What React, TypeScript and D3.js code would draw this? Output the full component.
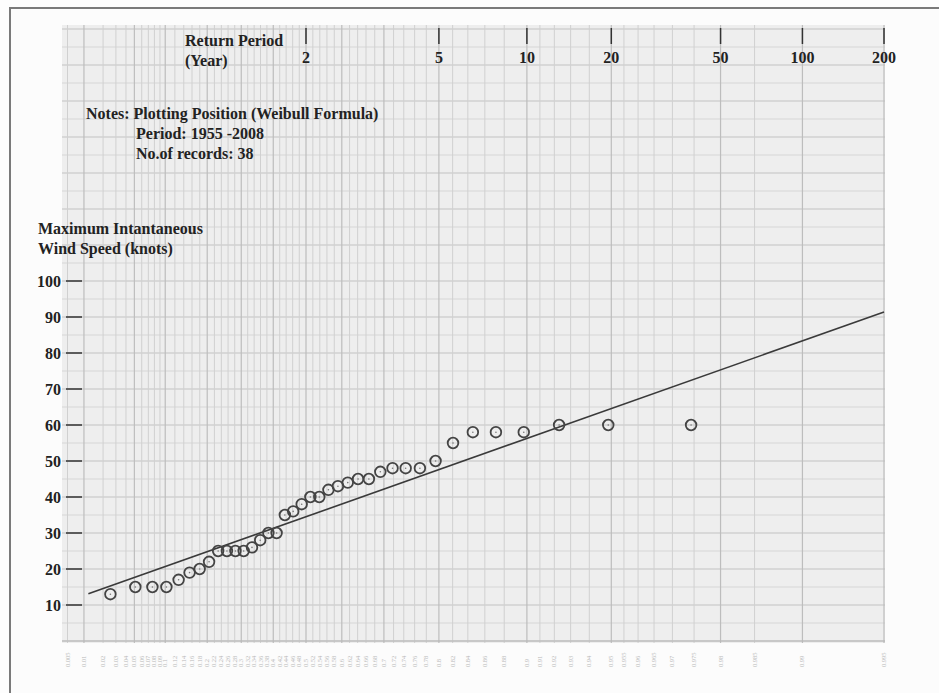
import React from 'react';
import * as d3 from 'd3';

// Top axis: return period (years)
const returnPeriodTicks = [2, 5, 10, 20, 50, 100, 200];
// Left axis: wind speed (knots)
const speedTicks = [10, 20, 30, 40, 50, 60, 70, 80, 90, 100];

// Plotting positions (Weibull, n = 38) as return periods, largest event first
const returnPeriods = [
  39, 19.5, 13, 9.75, 7.8, 6.5, 5.571, 4.875, 4.333, 3.9,
  3.545, 3.25, 3.0, 2.786, 2.6, 2.438, 2.294, 2.167, 2.053, 1.95,
  1.857, 1.773, 1.696, 1.625, 1.56, 1.5, 1.444, 1.393, 1.345, 1.3,
  1.258, 1.219, 1.182, 1.147, 1.114, 1.083, 1.054, 1.026,
];
// Annual maximum instantaneous wind speed (knots), ranked
const windSpeeds = [
  60, 60, 60, 58, 58, 58, 55, 50, 48, 48,
  48, 47, 45, 45, 44, 43, 42, 40, 40, 38,
  36, 35, 30, 30, 28, 26, 25, 25, 25, 25,
  22, 20, 19, 17, 15, 15, 15, 13,
];
// Fitted Gumbel line end points
const fitReturnPeriods = [1.012, 200];
const fitSpeeds = [13.1, 91.4];

// Probability-paper grid (non-exceedance probability)
const gridProbs = [
  0.005, 0.01, 0.02, 0.03, 0.04, 0.05, 0.06, 0.07, 0.08, 0.09, 0.1,
  0.12, 0.14, 0.16, 0.18, 0.2, 0.22, 0.24, 0.26, 0.28, 0.3, 0.32, 0.34,
  0.36, 0.38, 0.4, 0.42, 0.44, 0.46, 0.48, 0.5, 0.52, 0.54, 0.56, 0.58,
  0.6, 0.62, 0.64, 0.66, 0.68, 0.7, 0.72, 0.74, 0.76, 0.78, 0.8, 0.82,
  0.84, 0.86, 0.88, 0.9, 0.91, 0.92, 0.93, 0.94, 0.95, 0.955, 0.96,
  0.965, 0.97, 0.975, 0.98, 0.985, 0.99, 0.995,
];
const majorProbs = [0.01, 0.05, 0.1, 0.2, 0.3, 0.4, 0.5, 0.6, 0.7, 0.8, 0.9, 0.95, 0.98, 0.99, 0.995];
const gridSpeeds = d3.range(0, 171, 5);

const noteLines = [
  'Notes: Plotting Position (Weibull Formula)',
  'Period: 1955 -2008',
  'No.of records: 38',
];
const axisTitleX = ['Return Period', '(Year)'];
const axisTitleY = ['Maximum Intantaneous', 'Wind Speed (knots)'];

const W = 939;
const H = 693;
const reducedFromP = (p: number) => -Math.log(-Math.log(p));
const reducedFromT = (T: number) => reducedFromP(1 - 1 / T);

const x = d3.scaleLinear().domain([reducedFromT(2), reducedFromT(200)]).range([306, 884]);
const y = d3.scaleLinear().domain([0, 100]).range([641, 281]);

const paper = { x0: 62, x1: 885, y0: 25, y1: 643 };
const FONT = "'Liberation Serif', 'DejaVu Serif', Times, serif";
const FS = 16;

export default function App() {
  const line = d3
    .line<number>()
    .x((_, i) => x(reducedFromT(fitReturnPeriods[i])))
    .y((_, i) => y(fitSpeeds[i]));

  return (
    <svg
      width={W}
      height={H}
      viewBox={`0 0 ${W} ${H}`}
      style={{ position: 'absolute', left: 0, top: 0, display: 'block', background: '#fdfdfd' }}
    >
      {/* page frame */}
      <rect x={10} y={8} width={W + 20} height={H + 20} fill="#fcfcfc" stroke="#7a7a7a" strokeWidth={2} />

      {/* probability paper */}
      <rect x={paper.x0} y={paper.y0} width={paper.x1 - paper.x0} height={paper.y1 - paper.y0} fill="#eeeeee" />
      {gridSpeeds.map((v) => (
        <line
          key={'h' + v}
          x1={paper.x0}
          x2={paper.x1}
          y1={y(v)}
          y2={y(v)}
          stroke={v % 10 === 0 ? '#c2c2c2' : '#d6d6d6'}
          strokeWidth={1}
        />
      ))}
      {gridProbs.map((p) => {
        const major = majorProbs.includes(p);
        return (
          <line
            key={'v' + p}
            x1={x(reducedFromP(p))}
            x2={x(reducedFromP(p))}
            y1={paper.y0}
            y2={paper.y1}
            stroke={major ? '#bdbdbd' : '#d0d0d0'}
            strokeWidth={major ? 1.2 : 1}
          />
        );
      })}
      <line x1={paper.x0} x2={paper.x1} y1={y(0)} y2={y(0)} stroke="#b8b8b8" strokeWidth={1.2} />

      {/* faint probability labels under the paper */}
      {gridProbs.map((p) => (
        <text
          key={'pl' + p}
          transform={`translate(${x(reducedFromP(p)) + 2},${paper.y1 + 24}) rotate(-90)`}
          fontSize={6.5}
          fill="#b8b8b8"
          fontFamily={FONT}
        >
          {p}
        </text>
      ))}

      {/* top return-period axis */}
      {returnPeriodTicks.map((t) => (
        <g key={'t' + t} transform={`translate(${x(reducedFromT(t))},0)`}>
          <line y1={28} y2={44} stroke="#333" strokeWidth={1.5} />
          <text y={63} textAnchor="middle" fontSize={FS} fontWeight="bold" fontFamily={FONT} fill="#222">
            {t}
          </text>
        </g>
      ))}
      {axisTitleX.map((s, i) => (
        <text key={s} x={185} y={46 + i * 20} fontSize={FS} fontWeight="bold" fontFamily={FONT} fill="#222">
          {s}
        </text>
      ))}

      {/* notes */}
      {noteLines.map((s, i) => (
        <text
          key={s}
          x={i === 0 ? 86 : 136}
          y={119 + i * 20}
          fontSize={FS}
          fontWeight="bold"
          fontFamily={FONT}
          fill="#222"
        >
          {s}
        </text>
      ))}

      {/* left wind speed axis */}
      {axisTitleY.map((s, i) => (
        <text key={s} x={38} y={234 + i * 20} fontSize={FS} fontWeight="bold" fontFamily={FONT} fill="#222">
          {s}
        </text>
      ))}
      {speedTicks.map((v) => (
        <g key={'s' + v} transform={`translate(0,${y(v)})`}>
          <line x1={66} x2={82} stroke="#333" strokeWidth={1.5} />
          <text x={61} dy="0.35em" textAnchor="end" fontSize={FS} fontWeight="bold" fontFamily={FONT} fill="#222">
            {v}
          </text>
        </g>
      ))}

      {/* fitted line */}
      <path d={line(fitSpeeds) || ''} fill="none" stroke="#3a3a3a" strokeWidth={1.6} />

      {/* observations */}
      {windSpeeds.map((v, i) => {
        const cx = x(reducedFromT(returnPeriods[i]));
        const cy = y(v);
        return (
          <g key={'o' + i}>
            <circle cx={cx} cy={cy} r={5.3} fill="none" stroke="#444" strokeWidth={1.8} />
            <circle cx={cx} cy={cy} r={0.8} fill="#777" />
          </g>
        );
      })}
    </svg>
  );
}
